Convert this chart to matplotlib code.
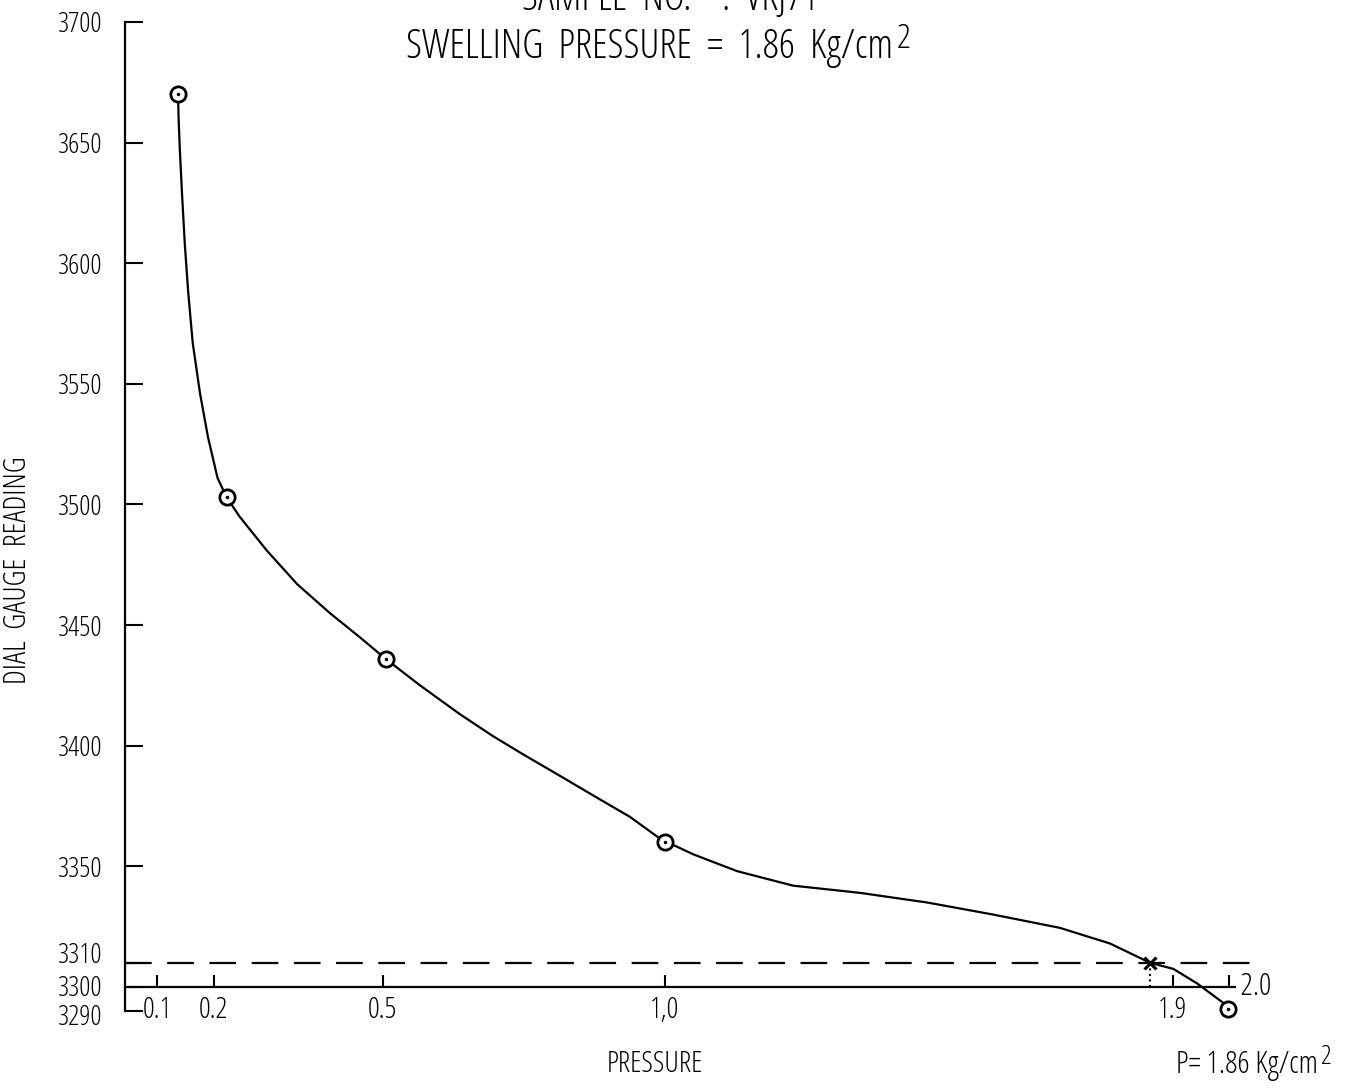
import matplotlib
matplotlib.use("Agg")
import matplotlib.pyplot as plt
from matplotlib.transforms import ScaledTranslation

plt.rcParams["font.family"] = ["Open Sans", "DejaVu Sans"]
plt.rcParams["font.stretch"] = "condensed"

# dial gauge readings (circled points)
pressure = [0.137, 0.223, 0.505, 1.0, 1.998]
dial = [3670, 3503, 3436, 3360, 3291]

# hand-drawn curve through the readings
curve_p = [0.137, 0.138, 0.140, 0.144, 0.149, 0.155, 0.163, 0.176, 0.190, 0.207,
           0.223, 0.246, 0.294, 0.348, 0.406, 0.459, 0.505, 0.566, 0.637, 0.695,
           0.748, 0.814, 0.872, 0.938, 1.0, 1.018, 1.050, 1.128, 1.227, 1.346,
           1.465, 1.582, 1.700, 1.789, 1.860, 1.901, 1.943, 1.966, 1.989, 1.998]
curve_d = [3670, 3660, 3648, 3629, 3608, 3588, 3567, 3546, 3528, 3511,
           3503, 3495, 3481, 3467, 3455, 3445, 3436, 3425, 3413, 3404,
           3396.5, 3387.5, 3379.5, 3370.5, 3360, 3358.5, 3355, 3348, 3342, 3339,
           3335, 3330, 3324.5, 3318, 3310, 3307.5, 3301.5, 3297.5, 3293.5, 3291]

swelling_p = 1.86
swelling_d = 3310
base_d = 3300

y_ticks = [3700, 3650, 3600, 3550, 3500, 3450, 3400, 3350, 3310, 3300, 3290]
x_ticks = [0.1, 0.2, 0.5, 1.0, 1.9, 2.0]
x_labels = ["0.1", "0.2", "0.5", "1,0", "1.9", ""]

W, H = 1346, 1088
fig = plt.figure(figsize=(W / 100, H / 100), dpi=100)
x_left = 0.043
ax = fig.add_axes([125 / W, 0.0596, (1342 - 125) / W, 0.9313])
ax.set_xlim(x_left, 2.2)
ax.set_ylim(3285, 3705)

ax.plot(curve_p, curve_d, color="black", lw=1.6, zorder=2, solid_joinstyle="round")
ax.plot(pressure, dial, "o", ms=11, mfc="white", mec="black", mew=2, zorder=3)
ax.plot(pressure, dial, ".", ms=3, color="black", zorder=4)
ax.hlines(swelling_d, x_left, 2.04, colors="black", lw=1.6, linestyles=(0, (12, 7)), zorder=1)
ax.vlines(swelling_p, base_d, swelling_d, colors="black", lw=1.5, linestyles=":", zorder=1)
ax.plot([swelling_p], [swelling_d], "x", ms=8, mew=2.2, color="black", zorder=4)

for side in ["top", "right"]:
    ax.spines[side].set_visible(False)
ax.spines["left"].set_position(("data", x_left))
ax.spines["left"].set_bounds(3290, 3700)
ax.spines["bottom"].set_position(("data", base_d))
ax.spines["bottom"].set_bounds(x_left, 2.01)
for side in ["left", "bottom"]:
    ax.spines[side].set_linewidth(1.6)

ax.set_yticks(y_ticks)
ax.set_yticklabels([str(v) for v in y_ticks], fontsize=20)
ax.set_xticks(x_ticks)
ax.set_xticklabels(x_labels, fontsize=21)
ax.tick_params(axis="y", direction="in", length=13, width=1.5, pad=16)
ax.tick_params(axis="x", direction="in", length=9, width=1.5, pad=6)

# the three lowest readings sit close together on the sheet, nudge them apart
nudge = {3310: 10, 3300: 1, 3290: -3}
for lab, v in zip(ax.get_yticklabels(), y_ticks):
    if v in nudge:
        lab.set_transform(lab.get_transform() + ScaledTranslation(0, nudge[v] / 100, fig.dpi_scale_trans))

ax.text(2.0, base_d, "  2.0", fontsize=22, ha="left", va="center")


def with_square(x, y, s, size, **kw):
    t = fig.text(x / W, 1 - y / H, s, fontsize=size, va="baseline", **kw)
    ax.annotate("2", xy=(1, 1), xycoords=t, xytext=(2, 3), textcoords="offset points",
                fontsize=size * 0.85, ha="left", va="top")
    return t


fig.text(670 / W, 1 - 10 / H, "SAMPLE  NO.    :  VRJ71", fontsize=29, ha="center", va="baseline")
with_square(650, 58, "SWELLING  PRESSURE  =  1.86  Kg/cm", 29, ha="center")
fig.text(18 / W, 1 - 570 / H, "DIAL  GAUGE  READING", fontsize=22, rotation=90,
         ha="center", va="center")
fig.text(655 / W, 1 - 1072 / H, "PRESSURE", fontsize=21, ha="center", va="baseline")
with_square(1176, 1073, "P= 1.86 Kg/cm", 22, ha="left")

fig.savefig("out.png", dpi=100)
